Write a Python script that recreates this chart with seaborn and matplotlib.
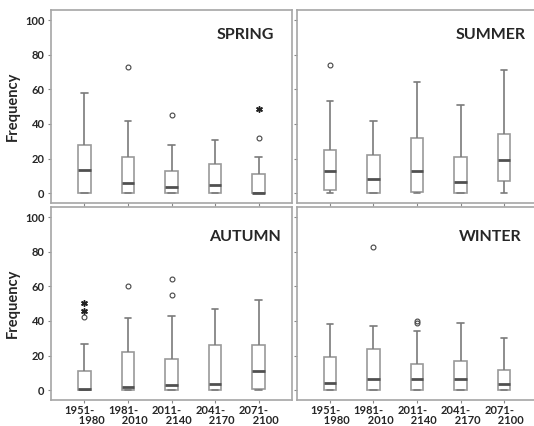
import matplotlib
matplotlib.use("Agg")
import matplotlib.pyplot as plt
import seaborn as sns
import pandas as pd

sns.set_style("white")
plt.rcParams["font.family"] = ["Lato", "DejaVu Sans"]

periods = ["1951-1980", "1981-2010", "2011-2140", "2041-2170", "2071-2100"]
tick_labels = ["1951-\n     1980", "1981-\n     2010", "2011-\n     2140",
               "2041-\n     2170", "2071-\n     2100"]
seasons = ["SPRING", "SUMMER", "AUTUMN", "WINTER"]

# five-number summaries: low whisker, Q1, median, Q3, high whisker
spring_stats = [(0, 0, 13.5, 28, 58), (0, 0, 6, 21, 42), (0, 0, 3.5, 13, 28),
                (0, 0, 5, 17, 31), (0, 0, 0, 11, 21)]
summer_stats = [(0, 2, 13, 25, 53), (0, 0, 8, 22, 42), (0, 1, 13, 32, 64),
                (0, 0, 6.5, 21, 51), (0, 7, 19, 34, 71)]
autumn_stats = [(0, 0, 1, 11, 27), (0, 0, 2, 22, 42), (0, 0, 3, 18, 43),
                (0, 0, 3.5, 26, 47), (0, 1, 11, 26, 52)]
winter_stats = [(0, 0, 4, 19, 38), (0, 0, 6.5, 24, 37), (0, 0, 6.5, 15, 34),
                (0, 0, 6.5, 17, 39), (0, 0, 3.5, 12, 30)]

# outliers (circles) and extremes (asterisks) per period
spring_out = [[], [73], [45], [], [32]]
summer_out = [[74], [], [], [], []]
autumn_out = [[42.5], [60], [55, 64], [], []]
winter_out = [[], [83], [39, 40], [], []]

spring_ext = [[], [], [], [], [48.5]]
summer_ext = [[], [], [], [], []]
autumn_ext = [[46, 50.5], [], [], [], []]
winter_ext = [[], [], [], [], []]

all_stats = [spring_stats, summer_stats, autumn_stats, winter_stats]
all_out = [spring_out, summer_out, autumn_out, winter_out]
all_ext = [spring_ext, summer_ext, autumn_ext, winter_ext]


def box_sample(stats, outliers):
    # rebuild a sample whose quartiles and whiskers match the summary
    lo, q1, med, q3, hi = stats
    return [lo] + [q1] * 10 + [med] * 10 + [q3] * 10 + [hi] + list(outliers)


fig = plt.figure(figsize=(5.34, 4.26), dpi=100)
W, H = 534, 426
boxes = [(51, 10), (296.5, 10), (51, 207), (296.5, 207)]
pw, ph = 241, 193

grey = "#a6a6a6"
for i, season in enumerate(seasons):
    x0, y0 = boxes[i]
    ax = fig.add_axes([x0 / W, (H - y0 - ph) / H, pw / W, ph / H])

    rows = []
    for p, st, out in zip(periods, all_stats[i], all_out[i]):
        for v in box_sample(st, out):
            rows.append({"period": p, "value": v})
    df = pd.DataFrame(rows)

    sns.boxplot(data=df, x="period", y="value", order=periods, ax=ax,
                width=0.28, color="white", linecolor="#9a9a9a", linewidth=1.2,
                whis=1.5,
                flierprops=dict(marker="o", markerfacecolor="none",
                                markeredgecolor="#444444", markersize=3.5,
                                markeredgewidth=0.8),
                medianprops=dict(color="#505050", linewidth=2),
                whiskerprops=dict(color="#7a7a7a", linewidth=1.2),
                capprops=dict(color="#7a7a7a", linewidth=1.2))

    for j, ext in enumerate(all_ext[i]):
        if ext:
            ax.scatter([j] * len(ext), ext, marker=(6, 2, 0), s=16,
                       color="#222222", linewidths=1.1, zorder=5)

    ax.set_xlim(-0.77, 4.77)
    ax.set_ylim(-5.6, 105.8)
    ax.set_yticks([0, 20, 40, 60, 80, 100])
    ax.set_xlabel("")
    ax.set_ylabel("")
    for s in ax.spines.values():
        s.set_color(grey)
        s.set_linewidth(1.2)
    ax.tick_params(axis="both", direction="out", length=2.5, width=0.8,
                   color="#888888", bottom=True, left=True, pad=2)
    ax.tick_params(axis="x", pad=1)

    if i % 2 == 0:
        ax.set_ylabel("Frequency", fontsize=10.5, fontweight="bold", labelpad=4)
        for t in ax.get_yticklabels():
            t.set_fontweight("bold")
            t.set_fontsize(8)
    else:
        ax.set_yticklabels([])

    if i >= 2:
        ax.set_xticks(range(len(periods)))
        ax.set_xticklabels(tick_labels, fontsize=8, fontweight="bold",
                           multialignment="left", linespacing=0.95)
    else:
        ax.set_xticklabels([])

    ty = 0.87 if i < 2 else 0.845
    ax.text(0.805, ty, season, transform=ax.transAxes, ha="center",
            va="center", fontsize=11.5, fontweight="bold")

fig.savefig("out.png", dpi=100)
